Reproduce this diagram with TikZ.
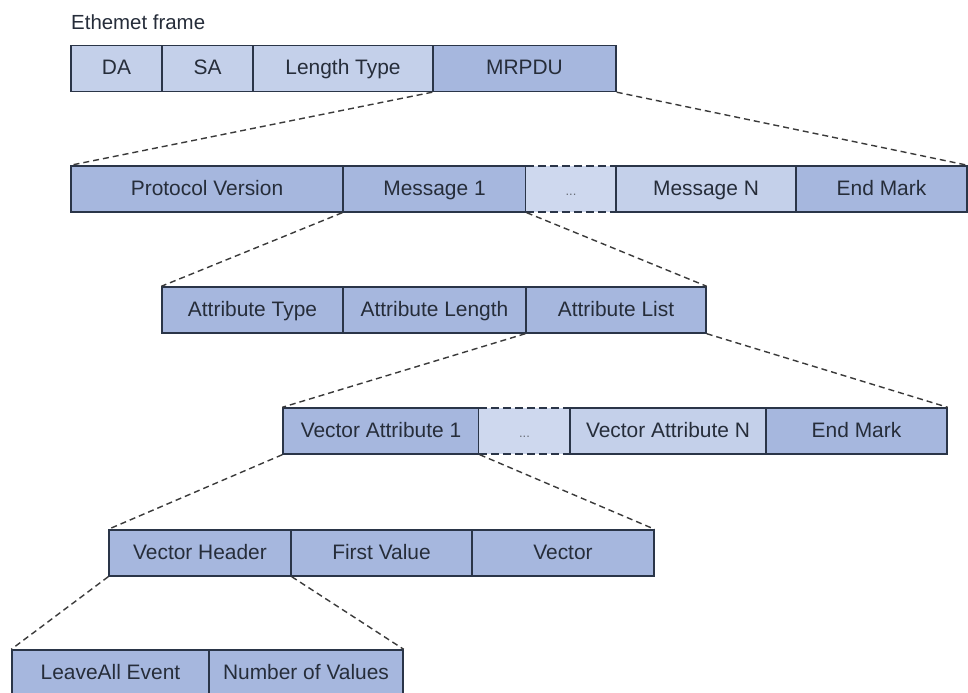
\documentclass[tikz,border=0pt]{standalone}
\usepackage{fontspec}
\setmainfont{Liberation Sans}
\definecolor{lightf}{HTML}{C4D0EA}
\definecolor{darkf}{HTML}{A6B7DE}
\definecolor{dotsf}{HTML}{CED8EE}
\definecolor{edge}{HTML}{2A3548}
\definecolor{txt}{HTML}{262D3A}
\definecolor{conn}{HTML}{3A3A3A}
\tikzset{
  field/.style={draw=edge, line width=1.4bp, inner sep=0pt, minimum height=46bp,
    text height=16bp, text depth=4bp,
    text=txt, font=\fontsize{21}{25}\selectfont},
  lt/.style={field, fill=lightf},
  dk/.style={field, fill=darkf},
  dotsbox/.style={inner sep=0pt, minimum height=46bp, fill=dotsf, text=txt!70,
    text height=16bp, text depth=4bp, font=\fontsize{13}{16}\selectfont},
  dotsedge/.style={draw=edge, line width=1.8bp, dash pattern=on 8bp off 4bp},
  zoomline/.style={draw=conn, line width=1.4bp, dash pattern=on 6bp off 4bp}
}
\begin{document}
\begin{tikzpicture}[x=1bp, y=-1bp]
\useasboundingbox (0,0) rectangle (968,693);
\clip (0,0) rectangle (968,693);
\fill[white] (0,0) rectangle (968,693);

% title
\node[anchor=base west, inner sep=0pt, text=txt, font=\fontsize{20.5}{24}\selectfont] (title) at (71,29.5) {Ethemet frame};

% row 0
\node[lt, minimum width=91bp]  (da)    at (116.5,68.5) {DA};
\node[lt, minimum width=91bp]  (sa)    at (207.5,68.5) {SA};
\node[lt, minimum width=180bp] (lt)    at (343,68.5)   {Length Type};
\node[dk, minimum width=183bp] (mrpdu) at (524.5,68.5) {MRPDU};

% row 1
\node[dk, minimum width=272bp] (pv)   at (207,189)   {Protocol Version};
\node[dk, minimum width=183bp] (m1)   at (434.5,189) {Message 1};
\node[dotsbox, minimum width=90bp] (dots1) at (571,189) {...};
\node[lt, minimum width=180bp] (mn)   at (706,189)   {Message N};
\node[dk, minimum width=171bp] (em1)  at (881.5,189) {End Mark};
\draw[dotsedge] (dots1.north west) -- (dots1.north east);
\draw[dotsedge] (dots1.south west) -- (dots1.south east);

% row 2
\node[dk, minimum width=181bp] (at)    at (252.5,310) {Attribute Type};
\node[dk, minimum width=183bp] (al)    at (434.5,310) {Attribute Length};
\node[dk, minimum width=180bp] (alist) at (616,310)   {Attribute List};

% row 3
\node[dk, minimum width=196bp] (va1)   at (381,431)   {Vector Attribute 1};
\node[dotsbox, minimum width=91bp] (dots2) at (524.5,431) {...};
\node[lt, minimum width=196bp] (van)   at (668,431)   {Vector Attribute N};
\node[dk, minimum width=181bp] (em2)   at (856.5,431) {End Mark};
\draw[dotsedge] (dots2.north west) -- (dots2.north east);
\draw[dotsedge] (dots2.south west) -- (dots2.south east);

% row 4
\node[dk, minimum width=182bp] (vh)  at (200,553)   {Vector Header};
\node[dk, minimum width=181bp] (fv)  at (381.5,553) {First Value};
\node[dk, minimum width=182bp] (vec) at (563,553)   {Vector};

% row 5
\node[dk, minimum width=197bp] (le) at (110.5,673) {LeaveAll Event};
\node[dk, minimum width=194bp] (nv) at (306,673)   {Number of Values};

% zoom connectors
\draw[zoomline] (mrpdu.south west) -- (pv.north west);
\draw[zoomline] (mrpdu.south east) -- (em1.north east);
\draw[zoomline] (m1.south west) -- (at.north west);
\draw[zoomline] (m1.south east) -- (alist.north east);
\draw[zoomline] (alist.south west) -- (va1.north west);
\draw[zoomline] (alist.south east) -- (em2.north east);
\draw[zoomline] (va1.south west) -- (vh.north west);
\draw[zoomline] (va1.south east) -- (vec.north east);
\draw[zoomline] (vh.south west) -- (le.north west);
\draw[zoomline] (vh.south east) -- (nv.north east);
\end{tikzpicture}
\end{document}
